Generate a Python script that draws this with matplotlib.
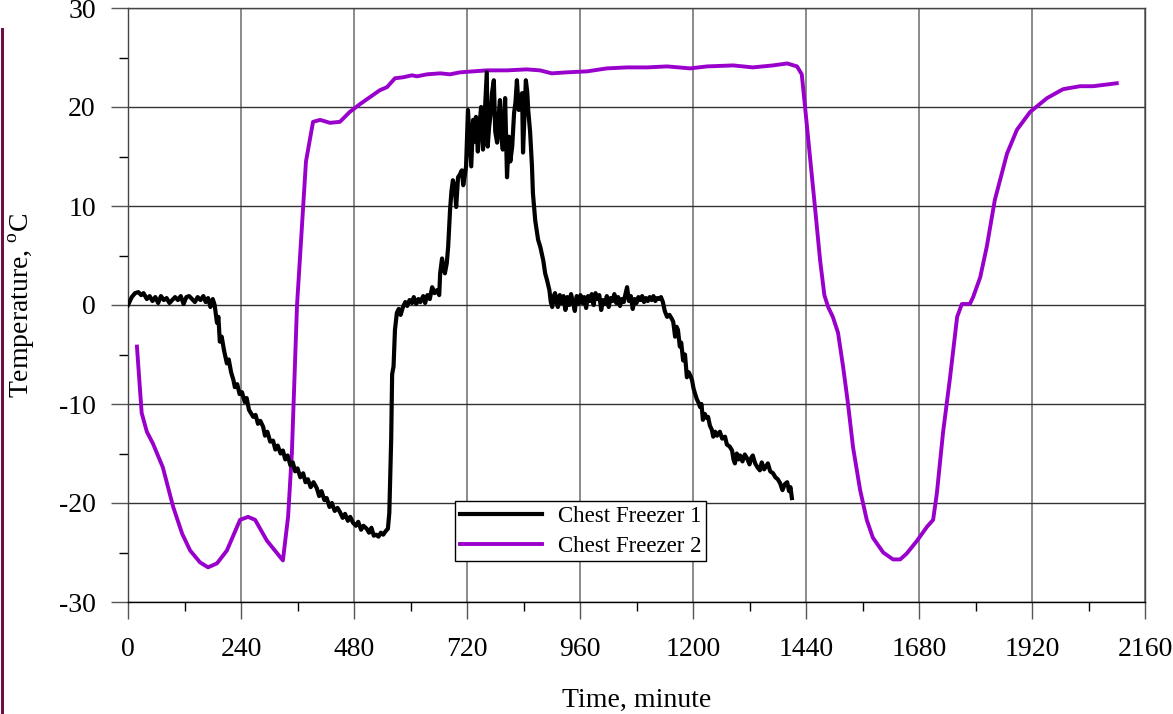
import numpy as np
import matplotlib
matplotlib.use('Agg')
import matplotlib.pyplot as plt
from matplotlib.lines import Line2D
from matplotlib.ticker import MultipleLocator

plt.rcParams.update({
    'font.family': 'serif',
    'font.serif': ['Liberation Serif', 'DejaVu Serif'],
    'mathtext.fontset': 'custom',
    'mathtext.rm': 'Liberation Serif',
    'axes.unicode_minus': False,
})

# ---- data (time in minutes, temperature in deg C) ----
cf1_time = [
    0, 8, 15, 22, 28, 33, 40, 46, 52, 58, 64, 70, 76, 82, 88, 94, 100, 106, 112, 118,
    124, 130, 136, 142, 148, 154, 160, 165, 170, 175, 180, 184,
    189, 192, 195, 199, 204, 210, 214, 219, 224, 227, 232, 237, 242, 248, 252, 257,
    262, 266, 271, 276, 281, 287, 291, 296, 302, 308, 313, 318, 324, 329, 334, 339,
    345, 350, 355, 360, 366, 372, 377, 382, 388, 394, 401, 406, 411, 417, 422, 428,
    433, 439, 445, 450, 456, 461, 467, 472, 478, 484, 489, 495, 500, 507, 512, 517,
    522, 527, 532, 537, 542, 548, 552,
    555, 559, 561, 564, 567, 571, 575, 579, 584, 589, 593, 598, 603, 607, 612, 617,
    621, 627, 631, 636, 641, 646, 651, 656, 661, 663, 667, 670, 673, 677, 680, 684,
    687, 690, 694, 697, 701, 705, 709, 712, 715, 718, 722, 725, 729, 733, 736, 739,
    743, 746, 750, 754, 758, 762, 764, 767, 770, 773, 777, 780, 784, 787, 790, 793,
    796, 801, 805, 809, 812, 816, 820, 823, 826, 830, 833, 837, 839, 842, 845, 848,
    850, 854, 858, 860, 865, 871, 876, 882, 886, 890, 895, 898, 901, 905, 907, 910,
    913, 917, 921, 925, 929, 933, 937, 941, 945, 949, 953, 957, 961, 965, 969, 973,
    977, 981, 985, 989, 993, 997, 1001, 1005, 1009, 1013, 1017, 1021, 1025, 1029,
    1033, 1037, 1041, 1045, 1049, 1053, 1057, 1060, 1064, 1068, 1072, 1076, 1080,
    1084, 1088, 1092, 1096, 1100, 1104, 1108, 1112, 1116, 1120, 1124, 1128, 1132,
    1136, 1140, 1145, 1150, 1155, 1158, 1162, 1165, 1168, 1172, 1175, 1179, 1183,
    1187, 1191, 1195, 1198, 1201, 1204, 1208, 1212, 1215, 1218, 1221, 1225, 1229,
    1232, 1236, 1240, 1243, 1247, 1251, 1257, 1262, 1268, 1272, 1278, 1283, 1286,
    1289, 1293, 1297, 1300, 1305, 1310, 1315, 1320, 1324, 1327, 1332, 1337, 1342,
    1346, 1351, 1355, 1359, 1364, 1370, 1375, 1380, 1385, 1390, 1395, 1400, 1404,
    1407, 1410,
]
cf1_temp = [
    0.0, 0.8, 1.2, 1.3, 1.0, 1.2, 0.6, 0.9, 0.4, 0.8, 0.2, 0.9, 0.5, 0.7, 0.2, 0.5, 0.8, 0.5, 0.9, 0.1,
    0.8, 0.9, 0.6, 0.3, 0.8, 0.5, 0.9, 0.3, 0.7, -0.2, 0.6, 0.0,
    -1.8, -1.2, -3.7, -3.2, -4.6, -5.9, -5.5, -6.8, -7.6, -8.3, -8.0, -9.0, -8.8, -9.8, -9.4, -10.6,
    -11.0, -11.3, -11.1, -12.0, -11.7, -12.3, -13.2, -12.8, -13.8, -13.7, -14.6, -14.2, -15.0, -14.7, -15.6, -15.2,
    -16.2, -15.9, -16.8, -16.5, -17.4, -17.0, -17.9, -17.6, -18.4, -17.9, -18.5, -19.3, -18.8, -19.7, -19.5, -20.4,
    -20.0, -20.8, -20.5, -20.9, -21.5, -21.1, -21.8, -21.4, -22.0, -22.3, -21.9, -22.7, -22.3, -22.6, -23.0, -22.5,
    -23.3, -23.2, -23.4, -23.0, -23.2, -22.8, -22.6,
    -21.0, -13.5, -7.0, -6.2, -2.5, -0.8, -0.4, -1.0, -0.2, 0.3, -0.1, 0.5, 0.2, 0.8, 0.1, 0.6,
    0.3, 0.9, 0.2, 1.0, 0.6, 1.8, 1.2, 1.5, 1.0, 3.2, 4.7, 3.8, 3.2, 4.2, 5.9, 9.6,
    11.5, 12.6, 11.9, 9.9, 12.9, 13.2, 13.6, 12.1, 13.0, 14.0, 19.7, 17.2, 14.0, 18.7, 16.5, 19.0,
    15.5, 18.0, 20.0, 15.7, 19.5, 23.5, 16.0, 18.0, 19.2, 21.4, 22.7, 17.5, 16.4, 19.0, 20.7, 17.0,
    15.7, 20.9, 12.9, 17.0, 14.5, 16.0, 19.4, 20.5, 22.7, 19.7, 20.2, 21.4, 15.4, 19.0, 22.7, 21.5,
    19.7, 17.5, 14.0, 11.3, 8.5, 6.6, 5.8, 4.5, 3.2, 2.5, 1.5, 0.3, -0.2, 1.0, 1.2, 0.3,
    -0.2, 1.0, 0.2, 0.9, -0.5, 0.8, 0.0, 1.1, 0.3, -0.6, 0.9, 0.1, 1.0, 0.2, 0.8, -0.3,
    0.9, 0.4, 1.1, 0.0, 1.2, 0.6, 1.0, -0.5, 0.5, 0.1, 0.9, -0.2, 0.7, 0.4,
    1.1, 0.2, 0.8, -0.1, 0.6, 0.3, 1.2, 1.8, 0.4, 0.9, -0.4, 0.6, 0.2,
    0.8, 0.5, 0.9, 0.3, 0.7, 0.4, 0.8, 0.5, 0.9, 0.4, 0.7, 0.6, 0.8,
    0.3, -0.6, -1.2, -1.0, -1.4, -1.7, -3.2, -2.2, -2.5, -4.2, -3.8, -5.6, -5.0,
    -7.3, -6.8, -7.2, -7.6, -8.4, -8.9, -9.5, -9.9, -10.3, -10.0, -11.6, -11.0, -11.4,
    -11.3, -12.2, -12.6, -13.3, -12.8, -13.2, -12.8, -13.5, -13.3, -14.1, -14.3, -14.7, -15.6,
    -16.0, -15.0, -15.6, -15.2, -15.8, -15.1, -15.5, -16.1, -15.4, -15.2, -16.0, -16.4, -16.7,
    -15.9, -16.6, -16.3, -16.0, -16.8, -17.0, -17.4, -17.6, -18.0, -18.7, -18.1, -17.9, -18.8,
    -18.4, -19.5,
]

cf2_time = [
    19, 29, 40, 53, 74, 96, 115, 132, 153, 170, 189, 210, 238, 255, 270, 295, 329,
    340, 348, 359, 378, 393, 408, 429, 450, 471, 493, 514, 535, 550, 567, 584, 603,
    614, 635, 663, 684, 705, 733, 762, 805, 847, 875, 900, 932, 975, 1017, 1060,
    1102, 1145, 1194, 1230, 1285, 1327, 1370, 1400, 1421, 1431, 1438, 1449, 1459,
    1470, 1479, 1487, 1497, 1508, 1519, 1529, 1540, 1555, 1569, 1582, 1604, 1625,
    1640, 1654, 1676, 1697, 1710, 1718, 1731, 1746, 1761, 1771, 1788, 1795, 1810,
    1824, 1841, 1867, 1888, 1916, 1952, 1986, 2022, 2050, 2100,
]
cf2_temp = [
    -4.2, -10.9, -12.8, -14.0, -16.4, -20.4, -23.1, -24.8, -26.0, -26.5, -26.1, -24.8, -21.7, -21.4, -21.7, -23.8, -25.8,
    -21.4, -15.0, 0.0, 14.5, 18.5, 18.7, 18.4, 18.5, 19.5, 20.3, 21.0, 21.7, 22.0, 22.9, 23.0, 23.2,
    23.1, 23.3, 23.4, 23.3, 23.5, 23.6, 23.7, 23.7, 23.8, 23.7, 23.4, 23.5, 23.6, 23.9, 24.0,
    24.0, 24.1, 23.9, 24.1, 24.2, 24.0, 24.2, 24.4, 24.1, 23.3, 20.0, 14.7, 9.9,
    4.5, 1.0, -0.2, -1.2, -2.8, -6.3, -9.9, -14.4, -18.7, -21.7, -23.5, -25.0, -25.7,
    -25.7, -25.1, -23.8, -22.4, -21.7, -19.0, -12.9, -7.3, -1.2, 0.1, 0.1, 0.8, 2.8,
    5.9, 10.6, 15.3, 17.7, 19.5, 20.9, 21.8, 22.1, 22.1, 22.4,
]

x_ticks = [0, 240, 480, 720, 960, 1200, 1440, 1680, 1920, 2160]
y_ticks = [-30, -20, -10, 0, 10, 20, 30]

fig = plt.figure(figsize=(11.73, 7.14), dpi=100, facecolor='white')
ax = fig.add_axes([128/1173, 1 - 602/714, 1017/1173, 594/714])

ax.plot(cf1_time, cf1_temp, color='black', lw=3.0, label='Chest Freezer 1', zorder=4,
        solid_joinstyle='round')
ax.plot(cf2_time, cf2_temp, color='#9900cc', lw=2.8, label='Chest Freezer 2', zorder=3,
        solid_joinstyle='round')

ax.set_xlim(0, 2160)
ax.set_ylim(-30, 30)
ax.set_xticks(x_ticks)
ax.set_yticks(y_ticks)
ax.xaxis.set_minor_locator(MultipleLocator(120))
ax.yaxis.set_minor_locator(MultipleLocator(5))

ax.grid(True, which='major', axis='x', color='#777777', lw=1.2)
ax.grid(True, which='major', axis='y', color='#333333', lw=1.0)
ax.set_axisbelow(True)

for side in ['left', 'right', 'top', 'bottom']:
    ax.spines[side].set_color('#444444')
    ax.spines[side].set_linewidth(1.0)
ax.spines['bottom'].set_color('black')

ax.tick_params(axis='both', which='major', direction='out', length=12.2, width=1.0,
               color='#555555', labelsize=20)
ax.tick_params(axis='x', which='major', pad=13)
ax.tick_params(axis='y', which='major', pad=11)
ax.tick_params(axis='both', which='minor', direction='out', length=6.2, width=1.0,
               color='black')

ax.set_xlabel('Time, minute', fontsize=20)
ax.set_ylabel(r'Temperature, $^\mathregular{o}$C', fontsize=20)
ax.xaxis.set_label_coords(0.5, -0.145)
ax.yaxis.set_label_coords(-0.089, 0.5)

leg = ax.legend(loc='upper left', bbox_to_anchor=(0.3215, 0.170), fontsize=16.5,
                frameon=True, fancybox=False, framealpha=1, edgecolor='black',
                handlelength=3.6, handletextpad=0.7, labelspacing=0.4,
                borderpad=0.2, borderaxespad=0)
leg.get_frame().set_linewidth(1.0)

# thin maroon rule along the left edge of the picture
fig.add_artist(Line2D([1.5/1173, 1.5/1173], [0, 1 - 29/714], color='#6b0f45', lw=2.2))

fig.savefig('out.png', dpi=100, facecolor='white')
